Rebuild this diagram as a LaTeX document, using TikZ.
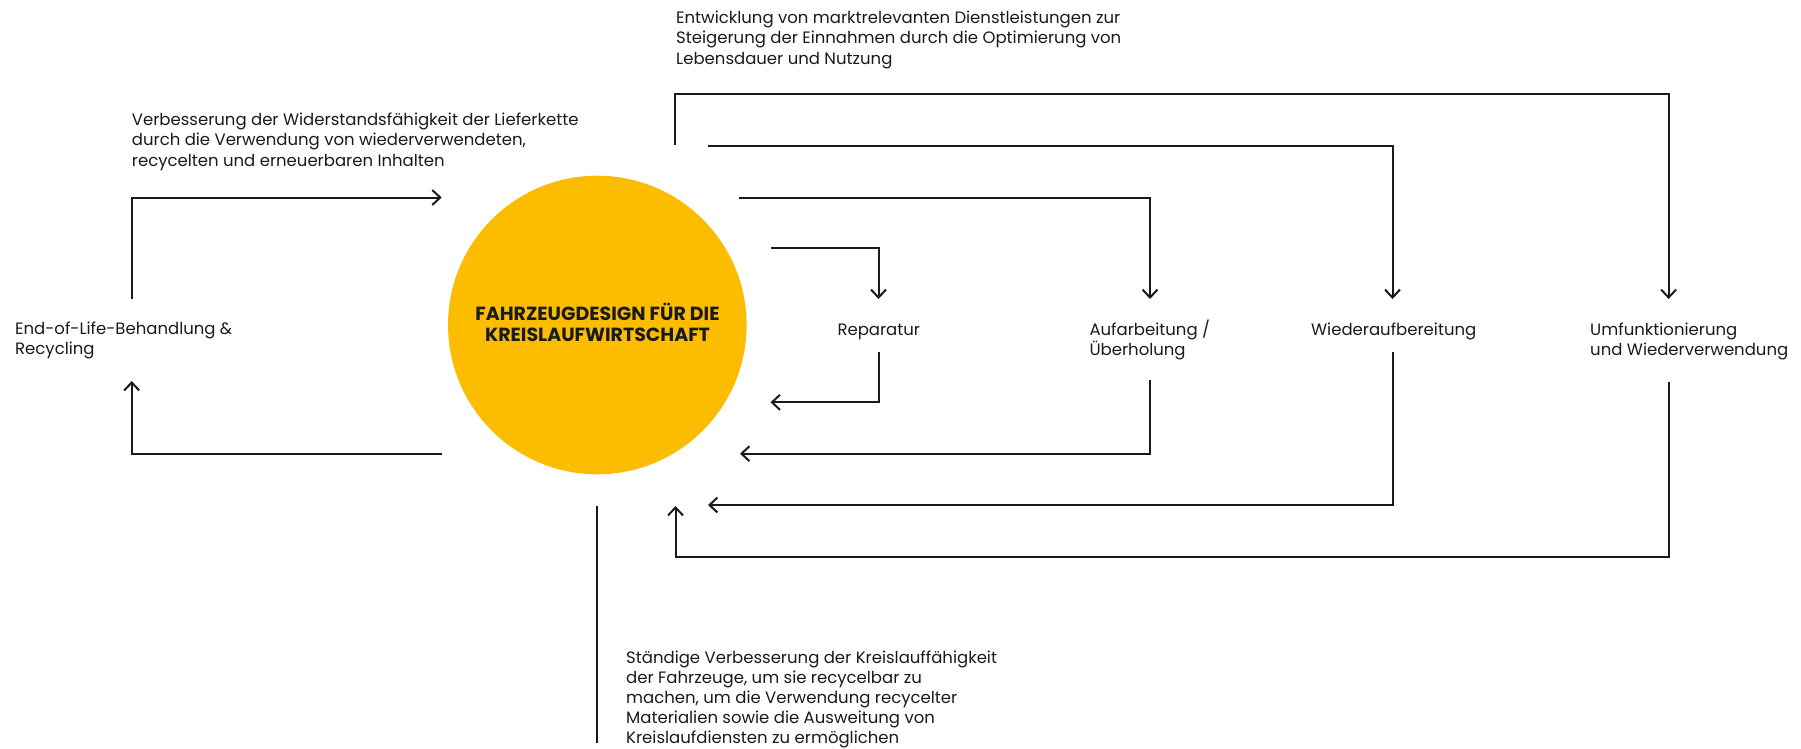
\documentclass[tikz,border=0pt]{standalone}
\usepackage{fontspec}
\setmainfont{Poppins}
\usetikzlibrary{arrows.meta}
\definecolor{disc}{RGB}{252,188,0}
\definecolor{ink}{RGB}{26,26,26}
\begin{document}
\begin{tikzpicture}[x=1pt,y=-1pt,
  lbl/.style={inner sep=0pt, font=\fontsize{16.5}{20.5}\selectfont, text=ink, align=left},
  flow/.style={draw=ink, line width=2pt},
  arr/.style={flow, -{Straight Barb[length=8pt,width=15pt]}}
]
\useasboundingbox (0,0) rectangle (1801,748);

% central disc (multi-line nodes are placed by the baseline of their last line)
\node[circle, fill=disc, minimum size=298.6pt, inner sep=0pt] (core) at (597.3,325) {};
\node[inner sep=0pt, font=\fontsize{19}{21.7}\bfseries\selectfont, text=ink, align=center, anchor=base] (title) at (597.5,341.7)
  {FAHRZEUGDESIGN FÜR DIE\\KREISLAUFWIRTSCHAFT};

% labels
\node[lbl, anchor=base west] (eol) at (15,354.5) {End-of-Life-Behandlung \&\\Recycling};
\node[lbl, anchor=base west] (supply) at (131.7,166) {Verbesserung der Widerstandsfähigkeit der Lieferkette\\durch die Verwendung von wiederverwendeten,\\recycelten und erneuerbaren Inhalten};
\node[lbl, anchor=base west] (services) at (676,64) {Entwicklung von marktrelevanten Dienstleistungen zur\\Steigerung der Einnahmen durch die Optimierung von\\Lebensdauer und Nutzung};
\node[lbl, anchor=base] (rep) at (878.8,335) {Reparatur};
\node[lbl, anchor=base west] (refurb) at (1089.3,355.5) {Aufarbeitung /\\Überholung};
\node[lbl, anchor=base] (reman) at (1393.7,335) {Wiederaufbereitung};
\node[lbl, anchor=base west] (reuse) at (1590,355.5) {Umfunktionierung\\und Wiederverwendung};
\node[lbl, anchor=base west, font=\fontsize{16.5}{20}\selectfont] (improve) at (626,743) {Ständige Verbesserung der Kreislauffähigkeit\\der Fahrzeuge, um sie recycelbar zu\\machen, um die Verwendung recycelter\\Materialien sowie die Ausweitung von\\Kreislaufdiensten zu ermöglichen};

% connector end points
\coordinate (eol-up)    at (131.7,299);
\coordinate (eol-in)    at (131.7,381);
\coordinate (core-w-in) at (441.7,197.5);
\coordinate (core-w-out) at (442,453.7);

\coordinate (reuse-out) at (675.3,145);
\coordinate (reuse-top) at (1668.6,94.3);
\coordinate (reuse-in)  at (1668.6,299);
\coordinate (reuse-ret) at (1668.6,381.7);
\coordinate (reuse-bot) at (1668.6,557);
\coordinate (reuse-back) at (675.5,506);

\coordinate (reman-out) at (707.5,145.7);
\coordinate (reman-in)  at (1392.5,299);
\coordinate (reman-ret) at (1392.5,351.7);
\coordinate (reman-back) at (708,505);

\coordinate (refurb-out) at (738.8,197.5);
\coordinate (refurb-in)  at (1150,299);
\coordinate (refurb-ret) at (1150,380);
\coordinate (refurb-back) at (740,453.7);

\coordinate (rep-out)  at (770.5,248);
\coordinate (rep-in)   at (878.5,299);
\coordinate (rep-ret)  at (878.5,351.7);
\coordinate (rep-back) at (770.5,402.3);

\coordinate (improve-top) at (597.3,506);
\coordinate (improve-bot) at (597.3,743);

% left loop
\draw[arr] (eol-up) |- (core-w-in);
\draw[arr] (core-w-out) -| (eol-in);

% outgoing service loops
\draw[arr] (reuse-out) |- (reuse-top) -- (reuse-in);
\draw[arr] (reman-out) -| (reman-in);
\draw[arr] (refurb-out) -| (refurb-in);
\draw[arr] (rep-out) -| (rep-in);

% returning loops
\draw[arr] (reuse-ret) -- (reuse-bot) -| (reuse-back);
\draw[arr] (reman-ret) |- (reman-back);
\draw[arr] (refurb-ret) |- (refurb-back);
\draw[arr] (rep-ret) |- (rep-back);

% stem to the design note
\draw[flow] (improve-top) -- (improve-bot);
\end{tikzpicture}
\end{document}
